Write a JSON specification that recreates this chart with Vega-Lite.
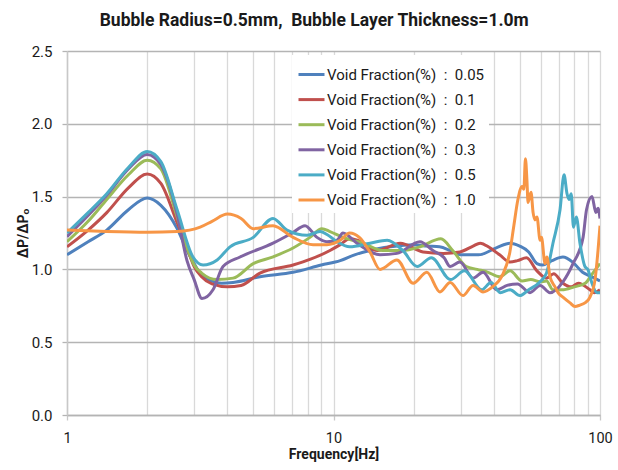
{
  "$schema": "https://vega.github.io/schema/vega-lite/v6.json",
  "width": 533,
  "height": 364,
  "autosize": {"type": "none"},
  "padding": {"left": 67, "top": 51, "right": 18, "bottom": 55},
  "background": "white",
  "title": {
    "text": "Bubble Radius=0.5mm,\u00a0 Bubble Layer Thickness=1.0m",
    "frame": "bounds",
    "anchor": "middle",
    "font": "Roboto, sans-serif",
    "fontSize": 17.5,
    "fontWeight": "bold",
    "color": "#1a1a1a",
    "offset": 15
  },
  "config": {
    "view": {"stroke": null},
    "font": "Roboto, sans-serif"
  },
  "data": {
    "values": [
      {"s": "0.05", "f": 1, "v": 1.10}, {"s": "0.05", "f": 1.2, "v": 1.19}, {"s": "0.05", "f": 1.41, "v": 1.27},
      {"s": "0.05", "f": 1.7, "v": 1.41}, {"s": "0.05", "f": 2.0, "v": 1.49}, {"s": "0.05", "f": 2.25, "v": 1.44},
      {"s": "0.05", "f": 2.59, "v": 1.28}, {"s": "0.05", "f": 2.82, "v": 1.13}, {"s": "0.05", "f": 3.0, "v": 1.04},
      {"s": "0.05", "f": 3.2, "v": 0.96}, {"s": "0.05", "f": 3.5, "v": 0.92}, {"s": "0.05", "f": 3.8, "v": 0.905},
      {"s": "0.05", "f": 4.2, "v": 0.91}, {"s": "0.05", "f": 5.3, "v": 0.95}, {"s": "0.05", "f": 7.05, "v": 0.98},
      {"s": "0.05", "f": 9.0, "v": 1.03}, {"s": "0.05", "f": 10.6, "v": 1.06}, {"s": "0.05", "f": 12.0, "v": 1.10},
      {"s": "0.05", "f": 13.7, "v": 1.13}, {"s": "0.05", "f": 16.3, "v": 1.155}, {"s": "0.05", "f": 19.9, "v": 1.17},
      {"s": "0.05", "f": 22.5, "v": 1.16}, {"s": "0.05", "f": 25, "v": 1.155}, {"s": "0.05", "f": 27.4, "v": 1.13},
      {"s": "0.05", "f": 30, "v": 1.10}, {"s": "0.05", "f": 35, "v": 1.10}, {"s": "0.05", "f": 41, "v": 1.15},
      {"s": "0.05", "f": 46, "v": 1.18}, {"s": "0.05", "f": 50, "v": 1.16}, {"s": "0.05", "f": 54, "v": 1.12},
      {"s": "0.05", "f": 58, "v": 1.04}, {"s": "0.05", "f": 61, "v": 1.03}, {"s": "0.05", "f": 66, "v": 1.06},
      {"s": "0.05", "f": 72.6, "v": 1.085}, {"s": "0.05", "f": 79, "v": 1.05}, {"s": "0.05", "f": 86, "v": 0.98},
      {"s": "0.05", "f": 93, "v": 0.95}, {"s": "0.05", "f": 100, "v": 0.92},

      {"s": "0.1", "f": 1, "v": 1.155}, {"s": "0.1", "f": 1.2, "v": 1.27}, {"s": "0.1", "f": 1.41, "v": 1.39},
      {"s": "0.1", "f": 1.7, "v": 1.56}, {"s": "0.1", "f": 2.0, "v": 1.655}, {"s": "0.1", "f": 2.25, "v": 1.59},
      {"s": "0.1", "f": 2.59, "v": 1.32}, {"s": "0.1", "f": 2.82, "v": 1.15}, {"s": "0.1", "f": 3.0, "v": 1.02},
      {"s": "0.1", "f": 3.2, "v": 0.95}, {"s": "0.1", "f": 3.5, "v": 0.90}, {"s": "0.1", "f": 4.0, "v": 0.88},
      {"s": "0.1", "f": 4.5, "v": 0.89}, {"s": "0.1", "f": 5.3, "v": 0.975}, {"s": "0.1", "f": 7.05, "v": 1.03},
      {"s": "0.1", "f": 8.2, "v": 1.07}, {"s": "0.1", "f": 9.7, "v": 1.13}, {"s": "0.1", "f": 10.6, "v": 1.17},
      {"s": "0.1", "f": 11.5, "v": 1.21}, {"s": "0.1", "f": 12.3, "v": 1.20}, {"s": "0.1", "f": 14.6, "v": 1.13},
      {"s": "0.1", "f": 17.8, "v": 1.18}, {"s": "0.1", "f": 21.7, "v": 1.12}, {"s": "0.1", "f": 25.8, "v": 1.11},
      {"s": "0.1", "f": 29.8, "v": 1.12}, {"s": "0.1", "f": 33.4, "v": 1.16}, {"s": "0.1", "f": 35.5, "v": 1.18},
      {"s": "0.1", "f": 38.5, "v": 1.15}, {"s": "0.1", "f": 42, "v": 1.10}, {"s": "0.1", "f": 46, "v": 1.05},
      {"s": "0.1", "f": 49, "v": 1.06}, {"s": "0.1", "f": 53, "v": 1.08}, {"s": "0.1", "f": 58, "v": 0.99},
      {"s": "0.1", "f": 63, "v": 0.94}, {"s": "0.1", "f": 67, "v": 0.97}, {"s": "0.1", "f": 72.6, "v": 0.905},
      {"s": "0.1", "f": 78, "v": 0.88}, {"s": "0.1", "f": 83, "v": 0.905}, {"s": "0.1", "f": 91.7, "v": 0.86},
      {"s": "0.1", "f": 95, "v": 0.84}, {"s": "0.1", "f": 100, "v": 0.86},

      {"s": "0.2", "f": 1, "v": 1.19}, {"s": "0.2", "f": 1.2, "v": 1.33}, {"s": "0.2", "f": 1.41, "v": 1.48},
      {"s": "0.2", "f": 1.7, "v": 1.65}, {"s": "0.2", "f": 2.0, "v": 1.75}, {"s": "0.2", "f": 2.25, "v": 1.69},
      {"s": "0.2", "f": 2.59, "v": 1.36}, {"s": "0.2", "f": 2.82, "v": 1.15}, {"s": "0.2", "f": 3.0, "v": 1.03},
      {"s": "0.2", "f": 3.2, "v": 0.975}, {"s": "0.2", "f": 3.66, "v": 0.93}, {"s": "0.2", "f": 4.2, "v": 0.94},
      {"s": "0.2", "f": 5.0, "v": 1.04}, {"s": "0.2", "f": 5.9, "v": 1.085}, {"s": "0.2", "f": 7.05, "v": 1.147},
      {"s": "0.2", "f": 8.16, "v": 1.22}, {"s": "0.2", "f": 9.05, "v": 1.28}, {"s": "0.2", "f": 9.7, "v": 1.26},
      {"s": "0.2", "f": 10.85, "v": 1.22}, {"s": "0.2", "f": 12.9, "v": 1.18}, {"s": "0.2", "f": 15.3, "v": 1.13},
      {"s": "0.2", "f": 18.2, "v": 1.13}, {"s": "0.2", "f": 21.1, "v": 1.155}, {"s": "0.2", "f": 25.3, "v": 1.21},
      {"s": "0.2", "f": 28, "v": 1.13}, {"s": "0.2", "f": 31.5, "v": 1.02}, {"s": "0.2", "f": 34.6, "v": 1.00},
      {"s": "0.2", "f": 38, "v": 0.98}, {"s": "0.2", "f": 42, "v": 0.95}, {"s": "0.2", "f": 46, "v": 0.99},
      {"s": "0.2", "f": 51, "v": 0.92}, {"s": "0.2", "f": 55, "v": 0.93}, {"s": "0.2", "f": 59.6, "v": 0.915},
      {"s": "0.2", "f": 63, "v": 0.92}, {"s": "0.2", "f": 66.6, "v": 0.86}, {"s": "0.2", "f": 72, "v": 0.86},
      {"s": "0.2", "f": 80, "v": 0.88}, {"s": "0.2", "f": 88, "v": 0.905}, {"s": "0.2", "f": 94, "v": 0.975},
      {"s": "0.2", "f": 100, "v": 1.04},

      {"s": "0.3", "f": 1, "v": 1.225}, {"s": "0.3", "f": 1.2, "v": 1.37}, {"s": "0.3", "f": 1.41, "v": 1.51},
      {"s": "0.3", "f": 1.7, "v": 1.69}, {"s": "0.3", "f": 2.0, "v": 1.79}, {"s": "0.3", "f": 2.25, "v": 1.72},
      {"s": "0.3", "f": 2.59, "v": 1.38}, {"s": "0.3", "f": 2.82, "v": 1.06}, {"s": "0.3", "f": 3.0, "v": 0.93},
      {"s": "0.3", "f": 3.21, "v": 0.80}, {"s": "0.3", "f": 3.53, "v": 0.86}, {"s": "0.3", "f": 3.85, "v": 1.02},
      {"s": "0.3", "f": 4.46, "v": 1.085}, {"s": "0.3", "f": 5.93, "v": 1.18}, {"s": "0.3", "f": 7.0, "v": 1.25},
      {"s": "0.3", "f": 7.82, "v": 1.30}, {"s": "0.3", "f": 8.67, "v": 1.22}, {"s": "0.3", "f": 9.45, "v": 1.19},
      {"s": "0.3", "f": 10.3, "v": 1.20}, {"s": "0.3", "f": 10.85, "v": 1.25}, {"s": "0.3", "f": 12.25, "v": 1.18},
      {"s": "0.3", "f": 14.95, "v": 1.10}, {"s": "0.3", "f": 17.3, "v": 1.11}, {"s": "0.3", "f": 21.1, "v": 1.19},
      {"s": "0.3", "f": 23.6, "v": 1.13}, {"s": "0.3", "f": 26, "v": 1.08}, {"s": "0.3", "f": 27.4, "v": 1.02},
      {"s": "0.3", "f": 29.8, "v": 1.05}, {"s": "0.3", "f": 33.4, "v": 0.94}, {"s": "0.3", "f": 36.4, "v": 0.98},
      {"s": "0.3", "f": 41, "v": 0.86}, {"s": "0.3", "f": 44.8, "v": 0.89}, {"s": "0.3", "f": 49, "v": 0.90},
      {"s": "0.3", "f": 54.6, "v": 0.84}, {"s": "0.3", "f": 59.6, "v": 0.89}, {"s": "0.3", "f": 64.9, "v": 0.84},
      {"s": "0.3", "f": 72.6, "v": 0.915}, {"s": "0.3", "f": 79.2, "v": 1.04}, {"s": "0.3", "f": 86.4, "v": 1.22},
      {"s": "0.3", "f": 89, "v": 1.41}, {"s": "0.3", "f": 93.3, "v": 1.50}, {"s": "0.3", "f": 96.5, "v": 1.39},
      {"s": "0.3", "f": 98.3, "v": 1.42}, {"s": "0.3", "f": 100, "v": 1.35},

      {"s": "0.5", "f": 1, "v": 1.25}, {"s": "0.5", "f": 1.2, "v": 1.39}, {"s": "0.5", "f": 1.41, "v": 1.52},
      {"s": "0.5", "f": 1.7, "v": 1.70}, {"s": "0.5", "f": 2.0, "v": 1.81}, {"s": "0.5", "f": 2.25, "v": 1.74},
      {"s": "0.5", "f": 2.59, "v": 1.41}, {"s": "0.5", "f": 2.97, "v": 1.085}, {"s": "0.5", "f": 3.24, "v": 1.03},
      {"s": "0.5", "f": 3.66, "v": 1.065}, {"s": "0.5", "f": 4.09, "v": 1.155}, {"s": "0.5", "f": 5.0, "v": 1.22},
      {"s": "0.5", "f": 5.93, "v": 1.35}, {"s": "0.5", "f": 6.69, "v": 1.27}, {"s": "0.5", "f": 7.96, "v": 1.235},
      {"s": "0.5", "f": 8.9, "v": 1.26}, {"s": "0.5", "f": 9.45, "v": 1.24}, {"s": "0.5", "f": 10.3, "v": 1.19},
      {"s": "0.5", "f": 11.5, "v": 1.155}, {"s": "0.5", "f": 13.7, "v": 1.18}, {"s": "0.5", "f": 15.9, "v": 1.20},
      {"s": "0.5", "f": 18.2, "v": 1.13}, {"s": "0.5", "f": 20.6, "v": 1.02}, {"s": "0.5", "f": 23.3, "v": 1.08},
      {"s": "0.5", "f": 27.5, "v": 0.93}, {"s": "0.5", "f": 31, "v": 0.99}, {"s": "0.5", "f": 36, "v": 0.86},
      {"s": "0.5", "f": 39, "v": 0.91}, {"s": "0.5", "f": 42.2, "v": 0.84}, {"s": "0.5", "f": 46, "v": 0.86},
      {"s": "0.5", "f": 50, "v": 0.82}, {"s": "0.5", "f": 54, "v": 0.86}, {"s": "0.5", "f": 59.6, "v": 0.915},
      {"s": "0.5", "f": 63, "v": 0.975}, {"s": "0.5", "f": 66.6, "v": 1.18}, {"s": "0.5", "f": 70.8, "v": 1.41},
      {"s": "0.5", "f": 73.3, "v": 1.65}, {"s": "0.5", "f": 75.2, "v": 1.52}, {"s": "0.5", "f": 76.5, "v": 1.48},
      {"s": "0.5", "f": 78, "v": 1.52}, {"s": "0.5", "f": 79.5, "v": 1.29}, {"s": "0.5", "f": 81.5, "v": 1.36},
      {"s": "0.5", "f": 84.1, "v": 1.18}, {"s": "0.5", "f": 87.8, "v": 1.02}, {"s": "0.5", "f": 90, "v": 1.0},
      {"s": "0.5", "f": 93.3, "v": 0.905}, {"s": "0.5", "f": 97.4, "v": 0.84}, {"s": "0.5", "f": 100, "v": 0.84},

      {"s": "1.0", "f": 1, "v": 1.27}, {"s": "1.0", "f": 1.41, "v": 1.26}, {"s": "1.0", "f": 2.0, "v": 1.255},
      {"s": "1.0", "f": 2.59, "v": 1.26}, {"s": "1.0", "f": 3.16, "v": 1.29}, {"s": "1.0", "f": 3.5, "v": 1.33},
      {"s": "1.0", "f": 4.0, "v": 1.38}, {"s": "1.0", "f": 4.5, "v": 1.35}, {"s": "1.0", "f": 5.0, "v": 1.28},
      {"s": "1.0", "f": 5.93, "v": 1.30}, {"s": "1.0", "f": 7.05, "v": 1.22}, {"s": "1.0", "f": 8.38, "v": 1.17},
      {"s": "1.0", "f": 9.45, "v": 1.17}, {"s": "1.0", "f": 10.6, "v": 1.20}, {"s": "1.0", "f": 11.5, "v": 1.25},
      {"s": "1.0", "f": 12.5, "v": 1.22}, {"s": "1.0", "f": 13.7, "v": 1.12}, {"s": "1.0", "f": 14.95, "v": 1.00},
      {"s": "1.0", "f": 17.3, "v": 1.065}, {"s": "1.0", "f": 19.9, "v": 0.905}, {"s": "1.0", "f": 22.4, "v": 0.98},
      {"s": "1.0", "f": 25.1, "v": 0.845}, {"s": "1.0", "f": 27.4, "v": 0.91}, {"s": "1.0", "f": 30.6, "v": 0.82},
      {"s": "1.0", "f": 33.4, "v": 0.89}, {"s": "1.0", "f": 36.4, "v": 0.845}, {"s": "1.0", "f": 39.5, "v": 0.88},
      {"s": "1.0", "f": 43, "v": 0.96}, {"s": "1.0", "f": 45.9, "v": 1.12}, {"s": "1.0", "f": 47.5, "v": 1.30},
      {"s": "1.0", "f": 49.2, "v": 1.48}, {"s": "1.0", "f": 51.0, "v": 1.57}, {"s": "1.0", "f": 51.8, "v": 1.55},
      {"s": "1.0", "f": 52.5, "v": 1.76}, {"s": "1.0", "f": 53.2, "v": 1.61}, {"s": "1.0", "f": 53.7, "v": 1.46},
      {"s": "1.0", "f": 55.1, "v": 1.53}, {"s": "1.0", "f": 56.1, "v": 1.39}, {"s": "1.0", "f": 57.0, "v": 1.34},
      {"s": "1.0", "f": 58.0, "v": 1.36}, {"s": "1.0", "f": 59.6, "v": 1.20}, {"s": "1.0", "f": 60.3, "v": 1.22},
      {"s": "1.0", "f": 62.2, "v": 1.04}, {"s": "1.0", "f": 63.2, "v": 1.085}, {"s": "1.0", "f": 64.9, "v": 0.95},
      {"s": "1.0", "f": 67.8, "v": 0.88}, {"s": "1.0", "f": 69.6, "v": 0.84}, {"s": "1.0", "f": 72.6, "v": 0.81},
      {"s": "1.0", "f": 77.2, "v": 0.77}, {"s": "1.0", "f": 80.6, "v": 0.745}, {"s": "1.0", "f": 84.1, "v": 0.755},
      {"s": "1.0", "f": 87.8, "v": 0.77}, {"s": "1.0", "f": 91.7, "v": 0.81}, {"s": "1.0", "f": 95.8, "v": 0.93},
      {"s": "1.0", "f": 98.3, "v": 1.13}, {"s": "1.0", "f": 100, "v": 1.30}
    ]
  },
  "mark": {"type": "line", "interpolate": "monotone", "strokeWidth": 3, "clip": true},
  "encoding": {
    "x": {
      "field": "f",
      "type": "quantitative",
      "scale": {"type": "log", "domain": [1, 100], "nice": false},
      "axis": {
        "title": "Frequency[Hz]",
        "titleFont": "Roboto, sans-serif",
        "titleFontSize": 14,
        "titleFontWeight": "bold",
        "titleColor": "#1a1a1a",
        "titlePadding": 3,
        "values": [1, 2, 3, 4, 5, 6, 7, 8, 9, 10, 20, 30, 40, 50, 60, 70, 80, 90, 100],
        "labelExpr": "datum.value == 1 || datum.value == 10 || datum.value == 100 ? format(datum.value, 'd') : ''",
        "labelOverlap": false,
        "labelFont": "Roboto, sans-serif",
        "labelFontSize": 14.5,
        "labelColor": "#1a1a1a",
        "labelPadding": 11,
        "labelFlush": false,
        "tickSize": 5,
        "tickColor": "#c8c8c8",
        "tickWidth": 1.3,
        "tickOpacity": {"condition": {"test": "datum.value == 1 || datum.value == 10 || datum.value == 100", "value": 1}, "value": 0},
        "domainColor": "#b4b4b4",
        "domainWidth": 1.5,
        "gridColor": "#d9d9d9",
        "gridWidth": 1.3
      }
    },
    "y": {
      "field": "v",
      "type": "quantitative",
      "scale": {"domain": [0, 2.5], "nice": false},
      "axis": {
        "title": "ΔP/ΔPₒ",
        "titleFont": "Roboto, sans-serif",
        "titleFontSize": 14,
        "titleFontWeight": "bold",
        "titleColor": "#1a1a1a",
        "titlePadding": 1,
        "values": [0, 0.5, 1, 1.5, 2, 2.5],
        "format": ".1f",
        "labelFont": "Roboto, sans-serif",
        "labelFontSize": 15,
        "labelColor": "#1a1a1a",
        "labelPadding": 10,
        "tickSize": 5,
        "tickColor": "#b4b4b4",
        "tickWidth": 1.3,
        "domainColor": "#c8c8c8",
        "domainWidth": 1.5,
        "gridColor": "#b4b4b4",
        "gridWidth": 1.5
      }
    },
    "color": {
      "field": "s",
      "type": "nominal",
      "scale": {
        "domain": ["0.05", "0.1", "0.2", "0.3", "0.5", "1.0"],
        "range": ["#4F81BD", "#C0504D", "#9BBB59", "#8064A2", "#4BACC6", "#F79646"]
      },
      "legend": {
        "title": null,
        "orient": "none",
        "legendX": 225,
        "legendY": 4,
        "fillColor": "white",
        "padding": 5,
        "symbolType": "stroke",
        "symbolSize": 676,
        "symbolStrokeWidth": 3,
        "symbolOffset": 0,
        "labelExpr": "'Void Fraction(%)\u00a0 :\u00a0 ' + datum.label",
        "labelFont": "Roboto, sans-serif",
        "labelFontSize": 15,
        "labelColor": "#1a1a1a",
        "labelOffset": 1,
        "rowPadding": 2.1,
        "labelLimit": 300
      }
    }
  }
}
